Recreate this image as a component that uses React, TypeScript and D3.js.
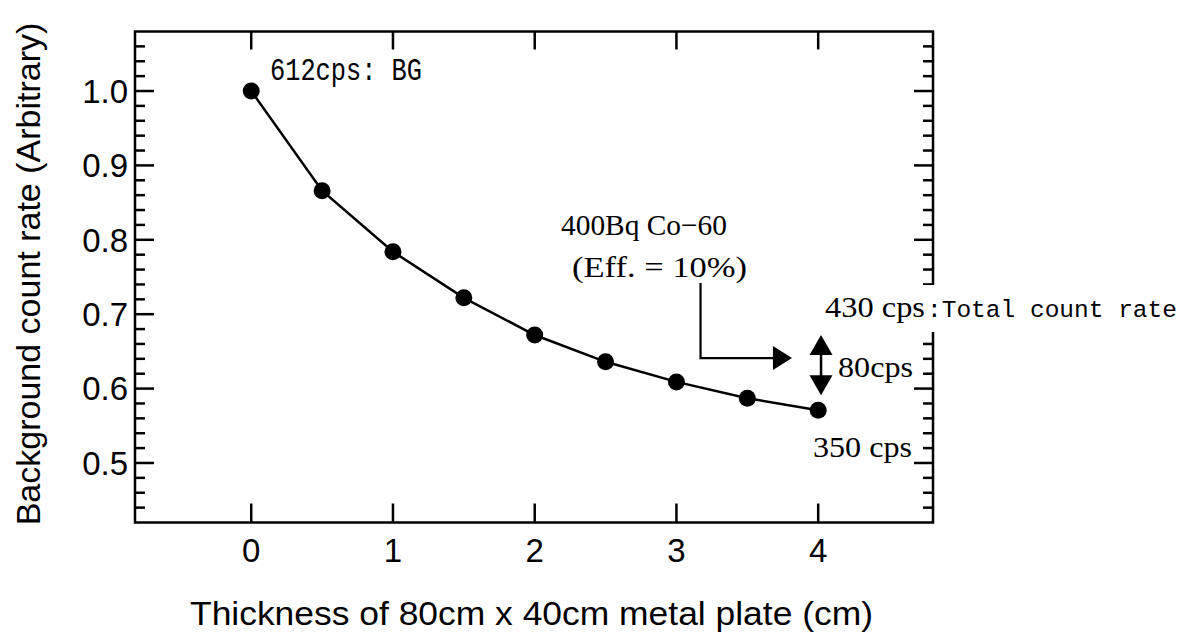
import React, { useEffect, useRef } from 'react';
import * as d3 from 'd3';

// thickness (cm) and normalised background count rate
const thickness = [0, 0.5, 1, 1.5, 2, 2.5, 3, 3.5, 4];
const rate = [1.0, 0.866, 0.784, 0.722, 0.672, 0.636, 0.609, 0.587, 0.571];

const xTicks = [0, 1, 2, 3, 4];
const yMajorTicks = [0.5, 0.6, 0.7, 0.8, 0.9, 1.0];
const yMinorTicks = d3.range(0.44, 1.07, 0.02);

const xLabel = 'Thickness of 80cm x 40cm metal plate (cm)';
const yLabel = 'Background count rate (Arbitrary)';

const W = 1189;
const H = 633;

const App = () => {
  const svgRef = useRef<SVGSVGElement | null>(null);

  useEffect(() => {
    const svg = d3.select(svgRef.current);
    svg.selectAll('*').remove();

    const left = 135, right = 933, top = 31.5, bottom = 522.5;

    const x = d3.scaleLinear().domain([-0.82, 4.81]).range([left, right]);
    const y = d3.scaleLinear().domain([0.42, 1.08]).range([bottom, top]);

    const sans = 'Liberation Sans, Arial, sans-serif';
    const serif = 'Liberation Serif, Times New Roman, serif';
    const mono = 'Liberation Mono, Courier New, monospace';

    const g = svg.append('g');

    // frame ticks
    const tickG = g.append('g').attr('stroke', '#000').attr('stroke-width', 2.5);
    yMinorTicks.forEach((v) => {
      const isMajor = yMajorTicks.some((m) => Math.abs(m - v) < 1e-6);
      const len = isMajor ? 19 : 10;
      tickG.append('line').attr('x1', left).attr('x2', left + len).attr('y1', y(v)).attr('y2', y(v));
      tickG.append('line').attr('x1', right).attr('x2', right - len).attr('y1', y(v)).attr('y2', y(v));
    });
    xTicks.forEach((v) => {
      tickG.append('line').attr('x1', x(v)).attr('x2', x(v)).attr('y1', bottom).attr('y2', bottom - 19);
      tickG.append('line').attr('x1', x(v)).attr('x2', x(v)).attr('y1', top).attr('y2', top + 18);
    });

    g.append('rect')
      .attr('x', left).attr('y', top)
      .attr('width', right - left).attr('height', bottom - top)
      .attr('fill', 'none').attr('stroke', '#000').attr('stroke-width', 2.5);

    // tick labels
    g.selectAll('.ylab')
      .data(yMajorTicks)
      .enter()
      .append('text')
      .attr('x', 128)
      .attr('y', (d) => y(d))
      .attr('dy', '0.36em')
      .attr('text-anchor', 'end')
      .attr('font-family', sans)
      .attr('font-size', 33)
      .text((d) => d.toFixed(1));

    g.selectAll('.xlab')
      .data(xTicks)
      .enter()
      .append('text')
      .attr('x', (d) => x(d))
      .attr('y', 562)
      .attr('text-anchor', 'middle')
      .attr('font-family', sans)
      .attr('font-size', 33)
      .text((d) => String(d));

    g.append('text')
      .attr('x', 190).attr('y', 625)
      .attr('font-family', sans).attr('font-size', 34)
      .attr('textLength', 683).attr('lengthAdjust', 'spacingAndGlyphs')
      .text(xLabel);

    g.append('text')
      .attr('transform', 'translate(40,274) rotate(-90)')
      .attr('text-anchor', 'middle')
      .attr('font-family', sans).attr('font-size', 34)
      .text(yLabel);

    // data line and markers
    const pts = thickness.map((t, i) => [t, rate[i]] as [number, number]);
    const line = d3.line<[number, number]>().x((d) => x(d[0])).y((d) => y(d[1]));
    g.append('path')
      .attr('d', line(pts))
      .attr('fill', 'none').attr('stroke', '#000').attr('stroke-width', 2.5);
    g.selectAll('.dot')
      .data(pts)
      .enter()
      .append('circle')
      .attr('cx', (d) => x(d[0]))
      .attr('cy', (d) => y(d[1]))
      .attr('r', 8.5)
      .attr('fill', '#000');

    // annotations
    const txt = (s: string, px: number, py: number, fam: string, size: number, len?: number) => {
      const t = g.append('text')
        .attr('x', px).attr('y', py)
        .attr('font-family', fam).attr('font-size', size)
        .text(s);
      if (len) t.attr('textLength', len).attr('lengthAdjust', 'spacingAndGlyphs');
      return t;
    };

    txt('612cps: BG', 270, 80, mono, 31, 152);
    txt('400Bq  Co\u221260', 561, 235, serif, 30, 166);
    txt('(Eff.  =  10%)', 572, 277, serif, 30, 175);

    // L-shaped arrow to the total count level
    const ax = x(3.17);
    const ay0 = y(0.742);
    const ay1 = y(0.641);
    const tip = x(3.815);
    g.append('path')
      .attr('d', `M${ax},${ay0} V${ay1} H${tip - 19}`)
      .attr('fill', 'none').attr('stroke', '#000').attr('stroke-width', 2.2);
    g.append('path')
      .attr('d', `M${tip},${ay1} L${tip - 19},${ay1 - 12} L${tip - 19},${ay1 + 12} Z`)
      .attr('fill', '#000');

    // double arrow 80cps
    const dx = x(4.02);
    const dTop = y(0.672);
    const dBot = y(0.591);
    g.append('line')
      .attr('x1', dx).attr('x2', dx).attr('y1', dTop + 18).attr('y2', dBot - 18)
      .attr('stroke', '#000').attr('stroke-width', 2.5);
    g.append('path')
      .attr('d', `M${dx},${dTop} L${dx - 11.5},${dTop + 20} L${dx + 11.5},${dTop + 20} Z`)
      .attr('fill', '#000');
    g.append('path')
      .attr('d', `M${dx},${dBot} L${dx - 11.5},${dBot - 20} L${dx + 11.5},${dBot - 20} Z`)
      .attr('fill', '#000');

    // total count rate label covers the right axis
    g.append('rect')
      .attr('x', 822).attr('y', 285).attr('width', W - 822).attr('height', 47)
      .attr('fill', '#fff');
    txt('430 cps', 825, 317, serif, 29, 100);
    txt(':Total count rate', 927, 317, mono, 24.5, 250);

    txt('80cps', 838, 377, serif, 29, 75);
    txt('350 cps', 813, 457, serif, 29, 99);
  }, []);

  return (
    <svg
      ref={svgRef}
      width={W}
      height={H}
      style={{ position: 'absolute', left: 0, top: 0, background: '#fff' }}
    />
  );
};

export default App;
